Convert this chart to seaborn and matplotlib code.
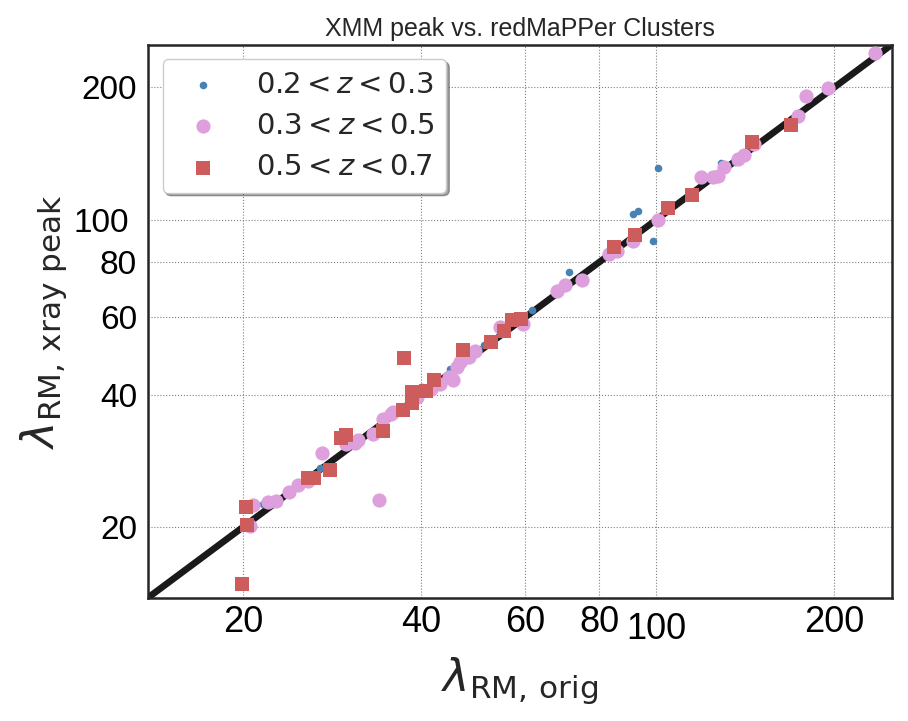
import numpy as np
import pandas as pd
import seaborn as sns
import matplotlib
matplotlib.use("Agg")
import matplotlib.pyplot as plt
from matplotlib.ticker import FixedLocator, FixedFormatter

# ---------------- data ----------------
low_x = [21.6, 27.0, 40.2, 44.8, 51.0, 61.7, 71.0, 91.1, 93.2, 98.8, 100.8, 128.8, 136.0]
low_y = [22.5, 27.2, 41.6, 45.7, 51.8, 62.4, 76.1, 102.8, 104.5, 89.4, 131.3, 134.8, 135.0]

mid_x = [20.55, 20.8, 22.0, 22.75, 23.9, 24.8, 25.7, 27.2, 29.8, 30.9, 31.3, 33.2, 34.0,
         34.5, 35.5, 35.9, 39.4, 41.5, 43.1, 44.5, 45.3, 46.0, 46.6, 48.1, 49.4, 54.4,
         59.5, 68.0, 70.1, 74.7, 83.0, 85.9, 91.1, 100.8, 119.1, 124.8, 127.3, 130.3,
         137.6, 140.8, 146.4, 173.9, 179.4, 195.4, 234.7]
mid_y = [20.1, 22.4, 22.8, 22.9, 24.0, 24.9, 25.4, 29.4, 30.8, 31.1, 31.6, 32.6, 23.0,
         35.1, 36.2, 36.6, 39.5, 41.2, 42.3, 43.9, 43.2, 46.2, 47.4, 48.7, 50.2, 56.9,
         57.8, 68.9, 71.1, 73.0, 83.5, 84.9, 89.4, 99.7, 124.7, 124.7, 126.0, 132.0,
         137.6, 140.5, 148.8, 172.1, 190.9, 199.1, 238.8]

high_x = [19.9, 20.3, 20.2, 25.7, 26.3, 28.0, 29.3, 29.8, 34.5, 37.3, 38.6, 38.6, 37.45,
          40.8, 42.1, 47.1, 52.4, 55.3, 57.0, 58.9, 84.9, 92.1, 104.7, 115.0, 145.3, 169.2]
high_y = [14.8, 20.2, 22.2, 25.8, 25.9, 26.9, 31.8, 32.4, 33.1, 36.9, 38.3, 40.6, 48.4,
          40.8, 43.2, 50.5, 52.6, 55.7, 59.0, 59.3, 86.6, 92.2, 106.1, 113.5, 150.3, 164.2]

labels = [r"$0.2 < z < 0.3$", r"$0.3 < z < 0.5$", r"$0.5 < z < 0.7$"]
tick_minor = [20, 40, 60, 80, 200]
tick_major = [100]
lims = (13.8, 250)

# ---------------- style ----------------
sns.set_style("white")
plt.rcParams["font.family"] = ["Liberation Sans", "DejaVu Sans"]
plt.rcParams["mathtext.fontset"] = "dejavusans"

fig, ax = plt.subplots(figsize=(9.08, 7.21), dpi=100)
fig.subplots_adjust(left=0.163, right=0.982, bottom=0.171, top=0.938)

ax.set_xscale("log")
ax.set_yscale("log")
ax.set_xlim(*lims)
ax.set_ylim(*lims)

ax.axline((lims[0], lims[0]), (lims[1], lims[1]), color="#1a1a1a", lw=4.8, zorder=2)

df_low = pd.DataFrame({"x": low_x, "y": low_y})
df_mid = pd.DataFrame({"x": mid_x, "y": mid_y})
df_high = pd.DataFrame({"x": high_x, "y": high_y})

sns.scatterplot(data=df_low, x="x", y="y", ax=ax, color="#4682b4", s=30,
                linewidth=0, marker="o", label=labels[0], zorder=3)
sns.scatterplot(data=df_mid, x="x", y="y", ax=ax, color="#dda0dd", s=105,
                linewidth=0, marker="o", label=labels[1], zorder=4)
sns.scatterplot(data=df_high, x="x", y="y", ax=ax, color="#cd5c5c", s=95,
                linewidth=0, marker="s", label=labels[2], zorder=5)

for axis in (ax.xaxis, ax.yaxis):
    axis.set_major_locator(FixedLocator(tick_major))
    axis.set_major_formatter(FixedFormatter([str(t) for t in tick_major]))
    axis.set_minor_locator(FixedLocator(tick_minor))
    axis.set_minor_formatter(FixedFormatter([str(t) for t in tick_minor]))

ax.tick_params(axis="both", which="major", direction="in", length=11, width=1.5,
               color="#1a1a1a")
ax.tick_params(axis="both", which="minor", direction="in", length=5, width=1,
               color="#1a1a1a")
ax.tick_params(axis="x", which="major", labelsize=26, pad=10, labelcolor="black")
ax.tick_params(axis="x", which="minor", labelsize=26, pad=5, labelcolor="black")
ax.tick_params(axis="y", which="major", labelsize=24, pad=14, labelcolor="black")
ax.tick_params(axis="y", which="minor", labelsize=24, pad=8, labelcolor="black")

ax.grid(True, which="both", linestyle=":", color="#808080", linewidth=0.8)
ax.set_axisbelow(True)

for sp in ax.spines.values():
    sp.set_color("#262626")
    sp.set_linewidth(1.8)

ax.set_xlabel(r"$\lambda_{\mathrm{RM,\,orig}}$", fontsize=32, color="#262626", labelpad=6)
ax.set_ylabel(r"$\lambda_{\mathrm{RM,\,xray\ peak}}$", fontsize=32, color="#262626", labelpad=3)
ax.set_title("XMM peak vs. redMaPPer Clusters", fontsize=18, color="#262626", pad=6)

leg = ax.legend(loc="upper left", fontsize=21, frameon=True, shadow=True, fancybox=True,
                borderpad=0.4, labelspacing=0.45)
leg.get_frame().set_facecolor("white")
leg.get_frame().set_edgecolor("#cccccc")
for t in leg.get_texts():
    t.set_color("#262626")

fig.savefig("out.png", dpi=100)
